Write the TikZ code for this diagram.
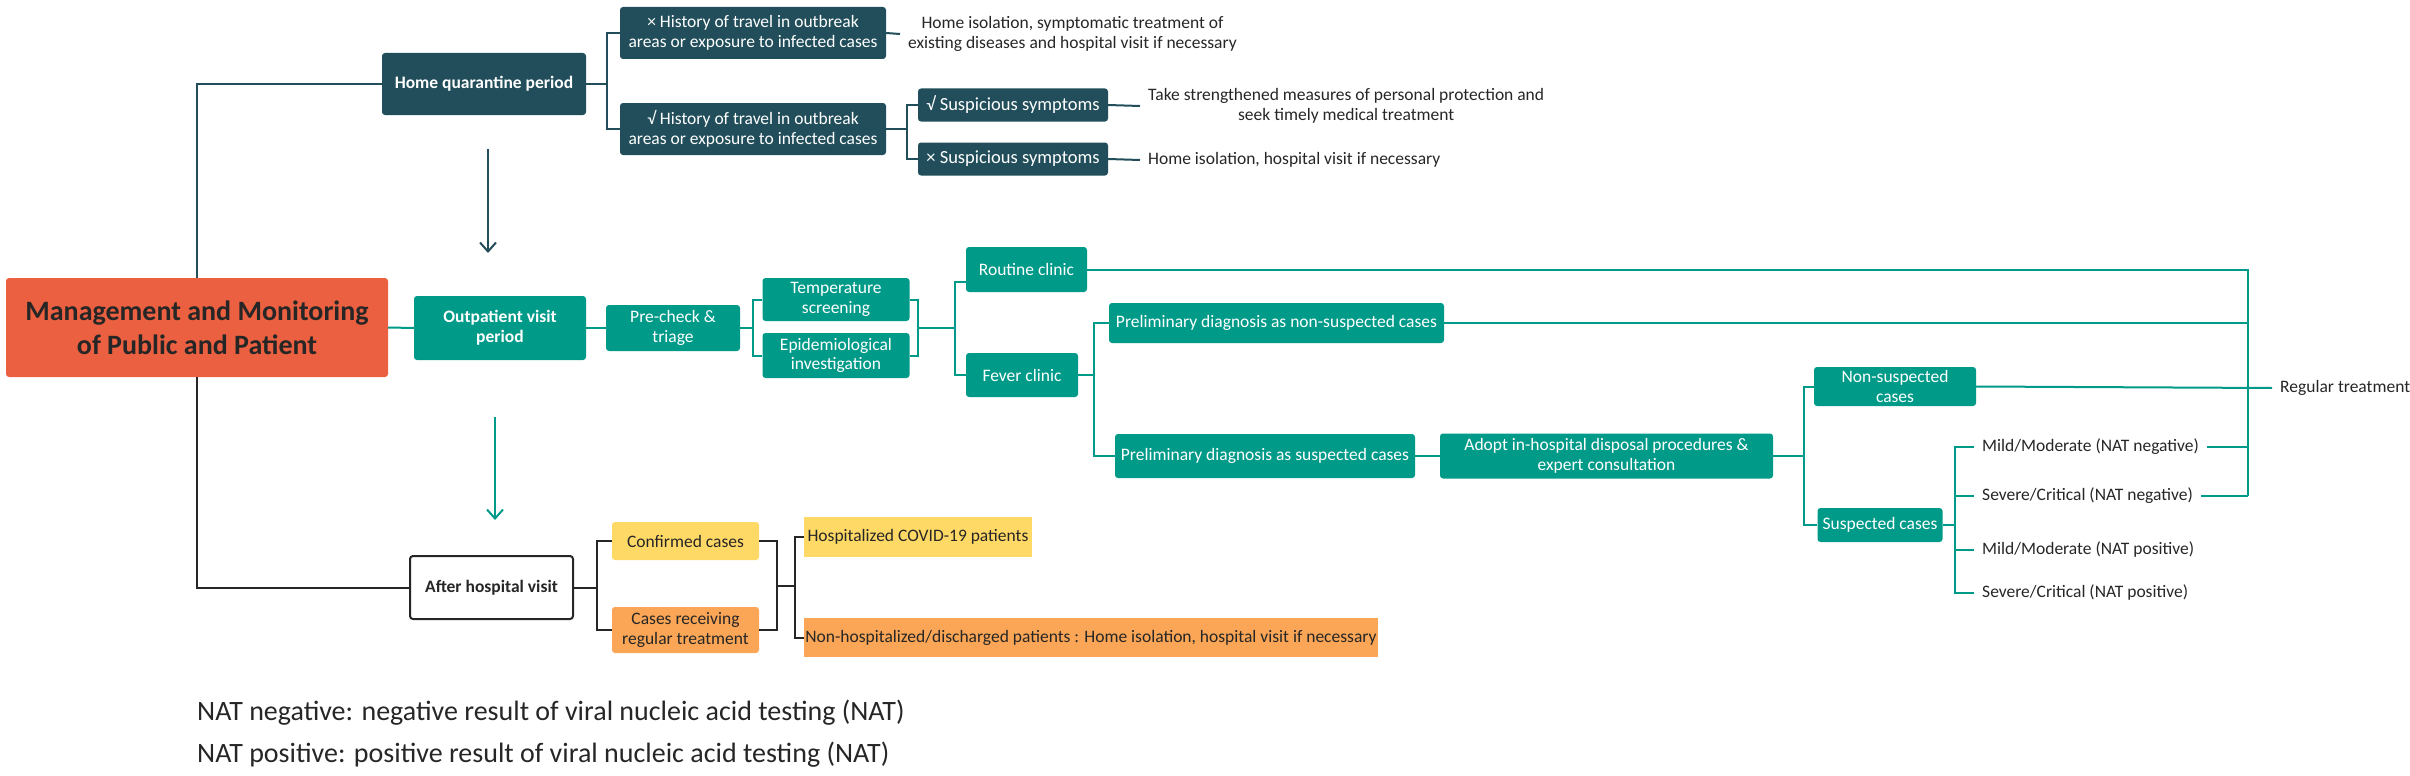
\documentclass[tikz,border=0pt]{standalone}
\usepackage{fontspec}
\setmainfont{Carlito}
\usetikzlibrary{arrows.meta,calc}
\definecolor{deep}{RGB}{33,78,90}
\definecolor{sea}{RGB}{0,154,137}
\definecolor{tomato}{RGB}{234,96,64}
\definecolor{sun}{RGB}{255,217,102}
\definecolor{amber}{RGB}{250,166,86}
\definecolor{ink}{RGB}{38,38,38}
\begin{document}
\begin{tikzpicture}[x=1pt,y=-1pt,
    box/.style={rounded corners=3pt, inner sep=0pt, align=center, font=\fontsize{17.5}{19.5}\selectfont},
    darkbox/.style={box, fill=deep, text=white},
    seabox/.style={box, fill=sea, text=white},
    note/.style={inner xsep=8pt, inner ysep=2pt, align=center, text=ink, font=\fontsize{17.5}{19.5}\selectfont},
    deepline/.style={draw=deep, line width=2pt},
    sealine/.style={draw=sea, line width=2pt},
    blackline/.style={draw=ink, line width=2pt},
    barb/.style={-{Straight Barb[length=9pt,width=16pt]}}]
    \useasboundingbox (0,0) rectangle (2410,776);

    \node[box, fill=tomato, text=ink, minimum width=382pt, minimum height=99pt, font=\bfseries\fontsize{28}{34}\selectfont] (main) at (197,327.5) {Management and Monitoring\\of Public and Patient};

    \node[darkbox, minimum width=204pt, minimum height=62pt, font=\bfseries\fontsize{17.5}{20}\selectfont] (hq) at (484,84) {Home quarantine period};
    \node[darkbox, minimum width=266pt, minimum height=52pt] (hno) at (753,33) {× History of travel in outbreak\\areas or exposure to infected cases};
    \node[darkbox, minimum width=266pt, minimum height=52pt] (hyes) at (753,129) {√ History of travel in outbreak\\areas or exposure to infected cases};
    \node[note, anchor=west] (homeA) at (900,34) {Home isolation, symptomatic treatment of\\existing diseases and hospital visit if necessary};
    \node[darkbox, minimum width=190pt, minimum height=33pt, font=\fontsize{18.5}{20}\selectfont] (sy) at (1013,105) {√ Suspicious symptoms};
    \node[darkbox, minimum width=190pt, minimum height=33pt, font=\fontsize{18.5}{20}\selectfont] (sn) at (1013,159) {× Suspicious symptoms};
    \node[note, anchor=west] (protect) at (1140,106) {Take strengthened measures of personal protection and\\seek timely medical treatment};
    \node[note, anchor=west] (homeB) at (1140,160) {Home isolation, hospital visit if necessary};

    \node[seabox, minimum width=172pt, minimum height=64pt, font=\bfseries\fontsize{17.5}{20}\selectfont] (outp) at (500,328) {Outpatient visit\\period};
    \node[seabox, minimum width=134pt, minimum height=46pt] (pre) at (673,328) {Pre-check \&\\triage};
    \node[seabox, minimum width=147pt, minimum height=43pt] (temp) at (836,299.5) {Temperature\\screening};
    \node[seabox, minimum width=147pt, minimum height=45pt] (epi) at (836,355.5) {Epidemiological\\investigation};
    \node[seabox, minimum width=121pt, minimum height=45pt] (routine) at (1026.5,269.5) {Routine clinic};
    \node[seabox, minimum width=112pt, minimum height=44pt] (fever) at (1022,375) {Fever clinic};
    \node[seabox, minimum width=335pt, minimum height=40pt] (pns) at (1276.5,323) {Preliminary diagnosis as non-suspected cases};
    \node[seabox, minimum width=300pt, minimum height=44pt] (psc) at (1265,456) {Preliminary diagnosis as suspected cases};
    \node[seabox, minimum width=333pt, minimum height=45pt] (adopt) at (1606.5,456) {Adopt in-hospital disposal procedures \&\\expert consultation};
    \node[seabox, minimum width=162pt, minimum height=39pt] (nsc) at (1895,386.5) {Non-suspected\\cases};
    \node[seabox, minimum width=125pt, minimum height=34pt] (susp) at (1880,525) {Suspected cases};
    \node[note, anchor=west] (reg) at (2272,388) {Regular treatment};
    \node[note, anchor=west] (mildneg) at (1974,447) {Mild/Moderate (NAT negative)};
    \node[note, anchor=west] (sevneg) at (1974,496) {Severe/Critical (NAT negative)};
    \node[note, anchor=west] (mildpos) at (1974,550) {Mild/Moderate (NAT positive)};
    \node[note, anchor=west] (sevpos) at (1974,593) {Severe/Critical (NAT positive)};

    \node[box, draw=ink, line width=2pt, fill=white, text=ink, minimum width=163pt, minimum height=63pt, font=\bfseries\fontsize{17.5}{20}\selectfont] (after) at (491.5,587.5) {After hospital visit};
    \node[box, fill=sun, text=ink, minimum width=147pt, minimum height=38pt] (conf) at (685.5,541) {Confirmed cases};
    \node[box, fill=amber, text=ink, minimum width=147pt, minimum height=46pt] (crt) at (685.5,630) {Cases receiving\\regular treatment};
    \node[box, fill=sun, text=ink, minimum width=228pt, minimum height=40pt, rounded corners=0pt] (hosp) at (918,537) {Hospitalized COVID-19 patients};
    \node[box, fill=amber, text=ink, minimum width=574pt, minimum height=39pt, rounded corners=0pt] (nonh) at (1091,637.5) {Non-hospitalized/discharged patients : Home isolation, hospital visit if necessary};

    \node[anchor=west, inner sep=0pt, text=ink, font=\fontsize{28}{32}\selectfont] (leg1) at (197,713) {NAT negative: negative result of viral nucleic acid testing (NAT)};
    \node[anchor=west, inner sep=0pt, text=ink, font=\fontsize{28}{32}\selectfont] (leg2) at (197,755) {NAT positive: positive result of viral nucleic acid testing (NAT)};

    \coordinate (qa) at (488,149);
    \coordinate (qb) at (488,253);
    \coordinate (oa) at (495,417);
    \coordinate (ob) at (495,520);
    \coordinate (bus) at (2248,0);
    \draw[deepline, barb] (qa) -- (qb);
    \draw[sealine, barb] (oa) -- (ob);

    \draw[deepline] (main.north) |- (hq.west);
    \draw[deepline] (hq.east) -- ++(21,0);
    \draw[deepline] (hno.west) -- ++(-13,0) |- (hyes.west);
    \draw[deepline] (hno.east) -- (homeA.west);
    \draw[deepline] (hyes.east) -- ++(21,0);
    \draw[deepline] (sy.west) -- ++(-11,0) |- (sn.west);
    \draw[deepline] (sy.east) -- (protect.west);
    \draw[deepline] (sn.east) -- (homeB.west);

    \draw[sealine] (main.east) -- (outp.west);
    \draw[sealine] (outp.east) -- (pre.west);
    \draw[sealine] (pre.east) -- ++(14,0);
    \draw[sealine] (temp.west) -- ++(-9,0) |- (epi.west);
    \draw[sealine] (temp.east) -- ++(8,0) |- (epi.east);
    \draw[sealine] ($(temp.east)!0.5!(epi.east)$) ++(8,0) -- ++(37,0);
    \draw[sealine] ([yshift=-12pt]routine.west) -- ++(-11,0) |- (fever.west);
    \draw[sealine] (fever.east) -- ++(16,0);
    \draw[sealine] (pns.west) -- ++(-15,0) |- (psc.west);
    \draw[sealine] (psc.east) -- (adopt.west);
    \draw[sealine] (adopt.east) -- ++(31,0);
    \draw[sealine] (nsc.west) -- ++(-10,0) |- (susp.west);
    \draw[sealine] (susp.east) -- ++(13,0);
    \draw[sealine] (mildneg.west) -- ++(-19,0) |- (sevpos.west);
    \draw[sealine] (sevneg.west) -- ++(-19,0);
    \draw[sealine] (mildpos.west) -- ++(-19,0);
    \draw[sealine] (routine.east) -| (sevneg.east -| bus);
    \draw[sealine] (pns.east) -- (pns.east -| bus);
    \draw[sealine] (nsc.east) -- (reg.west);
    \draw[sealine] (mildneg.east) -- (mildneg.east -| bus);
    \draw[sealine] (sevneg.east) -- (sevneg.east -| bus);

    \draw[blackline] (main.south) |- (after.west);
    \draw[blackline] (after.east) -- ++(24,0);
    \draw[blackline] (conf.west) -- ++(-15,0) |- (crt.west);
    \draw[blackline] (conf.east) -- ++(18,0) |- (crt.east);
    \draw[blackline] ($(conf.east)!0.5!(crt.east)$) ++(18,0) -- ++(18,0);
    \draw[blackline] (hosp.west) -- ++(-9,0) |- (nonh.west);
\end{tikzpicture}
\end{document}
